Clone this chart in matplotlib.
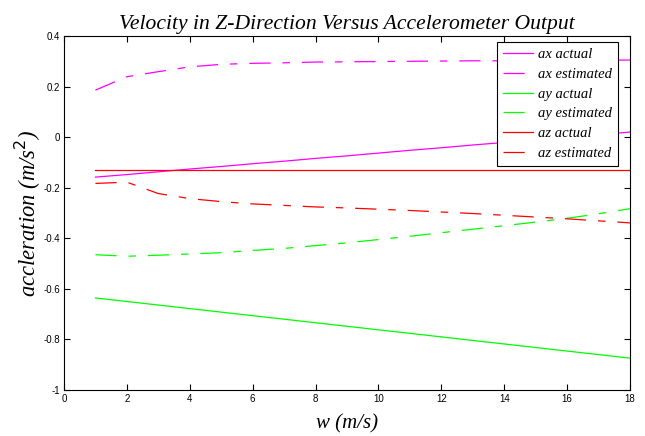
import matplotlib
matplotlib.use('Agg')
import matplotlib.pyplot as plt
import numpy as np

# data (x = w in m/s)
w = np.arange(1, 19)
ax_actual = [-0.158, -0.148, -0.137, -0.126, -0.116, -0.105, -0.095, -0.084, -0.074,
             -0.063, -0.052, -0.042, -0.031, -0.021, -0.010, 0.000, 0.010, 0.020]
ax_est = [0.186, 0.239, 0.259, 0.278, 0.288, 0.292, 0.294, 0.297, 0.298,
          0.299, 0.300, 0.301, 0.302, 0.302, 0.303, 0.304, 0.304, 0.305]
ay_actual = [-0.636, -0.650, -0.664, -0.678, -0.692, -0.706, -0.720, -0.734, -0.748,
             -0.762, -0.776, -0.790, -0.804, -0.818, -0.832, -0.846, -0.860, -0.874]
ay_est = [-0.465, -0.471, -0.467, -0.462, -0.457, -0.448, -0.440, -0.429, -0.418,
          -0.405, -0.392, -0.378, -0.364, -0.350, -0.336, -0.321, -0.303, -0.283]
az_actual = [-0.128] * 18
az_est = [-0.183, -0.178, -0.223, -0.243, -0.255, -0.264, -0.270, -0.276, -0.280,
          -0.285, -0.290, -0.296, -0.302, -0.309, -0.316, -0.323, -0.331, -0.339]

series = [
    ('ax actual', ax_actual, '#ff00ff', '-'),
    ('ax estimated', ax_est, '#ff00ff', '-.'),
    ('ay actual', ay_actual, '#00ff00', '-'),
    ('ay estimated', ay_est, '#00ff00', '-.'),
    ('az actual', az_actual, '#ff0000', '-'),
    ('az estimated', az_est, '#ff0000', '-.'),
]

serif = 'Liberation Serif'

fig = plt.figure(figsize=(6.45, 4.36), dpi=100)
ax = fig.add_axes([0.0992, 0.1055, 0.8775, 0.8119])

for label, vals, col, ls in series:
    if ls == '-':
        ax.plot(w, vals, color=col, lw=0.9, label=label)
    else:
        # matlab-ish dash-dot as it looks at low resolution
        ax.plot(w, vals, color=col, lw=0.9, label=label, dashes=(17, 9.5, 6, 9.5))

ax.set_xlim(0, 18)
ax.set_ylim(-1, 0.4)
ax.set_xticks(range(0, 19, 2))
ax.set_yticks(np.round(np.arange(-1, 0.41, 0.2), 1))
ax.set_yticklabels(['-1', '-0.8', '-0.6', '-0.4', '-0.2', '0', '0.2', '0.4'])
ax.tick_params(direction='in', length=4, width=0.8, top=True, right=True,
               labelsize=7, pad=3)
for lab in ax.get_xticklabels() + ax.get_yticklabels():
    lab.set_family('Liberation Sans')
for sp in ax.spines.values():
    sp.set_linewidth(0.8)

ax.set_title('Velocity in Z-Direction Versus Accelerometer Output',
             family=serif, style='italic', fontsize=15.6, pad=5)
ax.set_xlabel('w (m/s)', family=serif, style='italic', fontsize=15, labelpad=7)
ax.set_ylabel('accleration (m/s$^2$)', family=serif, style='italic', fontsize=16.3,
              labelpad=0)

leg = ax.legend(loc='upper right', bbox_to_anchor=(0.979, 0.983), borderaxespad=0,
                prop={'family': serif, 'style': 'italic', 'size': 10.5},
                fancybox=False, edgecolor='black', framealpha=1,
                handlelength=2.05, borderpad=0.4, labelspacing=0.45,
                handletextpad=0.35)
leg.get_frame().set_linewidth(0.8)

fig.savefig('out.png', dpi=100)
